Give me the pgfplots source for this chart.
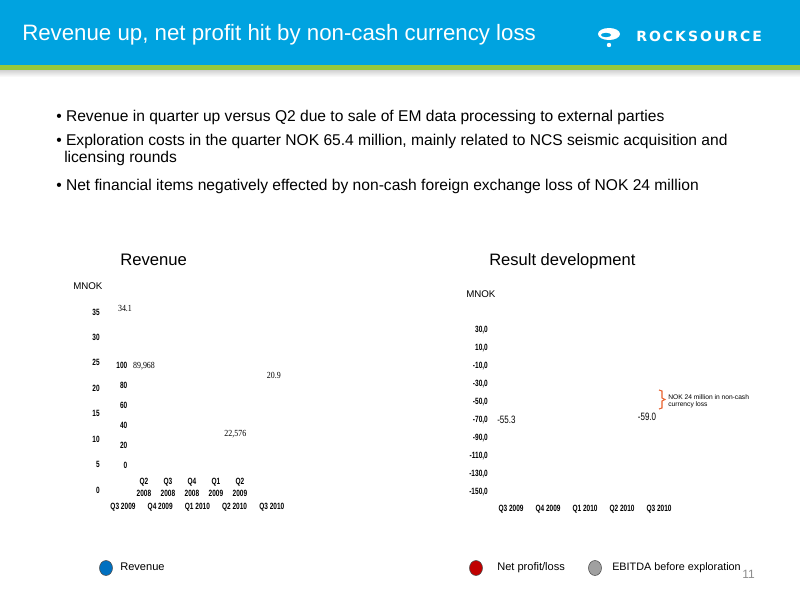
\documentclass[border=0pt]{standalone}
\usepackage{pgfplots}
\pgfplotsset{compat=1.18}
\usepackage{fontspec}
\setmainfont{Liberation Sans}
\newfontfamily\narrowb[FakeStretch=0.72]{Liberation Sans}
\newfontfamily\narrow[FakeStretch=0.75]{Liberation Sans}
\newfontfamily\serifn[FakeStretch=0.85]{Liberation Serif}
\newfontfamily\logofont{DejaVu Sans}
\definecolor{hdrblue}{RGB}{0,163,224}
\definecolor{hdrgreen}{RGB}{150,200,60}
\definecolor{legblue}{RGB}{0,112,192}
\definecolor{legred}{RGB}{192,0,0}
\definecolor{leggray}{RGB}{160,160,160}
\definecolor{annor}{RGB}{232,96,44}
\begin{document}
\begin{tikzpicture}
\begin{scope}[x=0.75pt,y=-0.75pt]
\path[use as bounding box] (0,0) rectangle (800,600);
\fill[white] (0,0) rectangle (800,600);
\fill[hdrblue] (0,0) rectangle (800,65);
\fill[hdrgreen] (0,65) rectangle (800,70);
\shade[top color=black!18,bottom color=white] (0,70) rectangle (800,77);
\node[anchor=west, text=white, font=\fontsize{16.7}{18}\selectfont, inner sep=0pt] at (22,35) {Revenue up, net profit hit by non-cash currency loss};
% logo
\fill[white] (609,34) ellipse [x radius=11, y radius=6];
\fill[hdrblue] (606,35) ellipse [x radius=5, y radius=2.2];
\fill[white] (609,45) circle [radius=2.2];
\node[anchor=west, text=white, font=\logofont\bfseries\fontsize{10.5}{12}\selectfont, inner sep=0pt] at (636,36)
  {R\kern1.5pt O\kern1.5pt C\kern1.5pt K\kern1.5pt S\kern1.5pt O\kern1.5pt U\kern1.5pt R\kern1.5pt C\kern1.5pt E};
% bullets
\begin{scope}[every node/.style={anchor=west, inner sep=0pt, font=\fontsize{11.7}{13}\selectfont}]
\node at (56,117) {\textbullet\ Revenue in quarter up versus Q2 due to sale of EM data processing to external parties};
\node at (56,141) {\textbullet\ Exploration costs in the quarter NOK 65.4 million, mainly related to NCS seismic acquisition and};
\node at (64,158) {licensing rounds};
\node at (56,186) {\textbullet\ Net financial items negatively effected by non-cash foreign exchange loss of NOK 24 million};
\end{scope}
% chart titles
\node[anchor=west, inner sep=0pt, font=\fontsize{12.5}{14}\selectfont] at (120,260) {Revenue};
\node[anchor=west, inner sep=0pt, font=\fontsize{12.4}{14}\selectfont] at (489,261) {Result development};
\node[anchor=west, inner sep=0pt, font=\fontsize{7.3}{9}\selectfont] at (73,286) {MNOK};
\node[anchor=west, inner sep=0pt, font=\fontsize{7.3}{9}\selectfont] at (466,294) {MNOK};
% annotation
\draw[annor, line width=0.8pt] (659,390) -- (662,391) -- (662,398) -- (665,399.5) -- (662,401) -- (662,408) -- (659,409);
\node[anchor=west, inner sep=0pt, font=\fontsize{5.0}{6}\selectfont] at (668,397) {NOK 24 million in non-cash};
\node[anchor=west, inner sep=0pt, font=\fontsize{5.0}{6}\selectfont] at (668,405) {currency loss};
% legend
\filldraw[fill=legblue, draw=black!70, line width=0.4pt] (106,568) ellipse [x radius=6.5, y radius=7.5];
\node[anchor=west, inner sep=0pt, font=\fontsize{8.3}{10}\selectfont] at (120,567) {Revenue};
\filldraw[fill=legred, draw=black!70, line width=0.4pt] (476,568) ellipse [x radius=6.5, y radius=7.5];
\node[anchor=west, inner sep=0pt, font=\fontsize{8.3}{10}\selectfont] at (497,568) {Net profit/loss};
\filldraw[fill=leggray, draw=black!70, line width=0.4pt] (595,568) ellipse [x radius=6.5, y radius=7.5];
\node[anchor=west, inner sep=0pt, font=\fontsize{8.1}{10}\selectfont] at (612,568) {EBITDA before exploration};
\node[anchor=west, inner sep=0pt, text=black!45, font=\fontsize{9}{10}\selectfont] at (742,574) {11};
\end{scope}

\pgfplotsset{slidestyle/.style={
  scale only axis, clip=false,
  axis line style={draw=none}, major tick length=0pt,
  /pgf/number format/assume math mode=true,
  tick label style={font=\narrowb\bfseries\fontsize{6.8}{7.5}\selectfont},
  xmin=-0.5, xmax=4.5, xtick={0,...,4},
}}

% Revenue (current)
\begin{axis}[slidestyle, at={(78.3pt,-367.5pt)}, anchor=south west,
  width=139.5pt, height=133.5pt, ymin=0, ymax=35, ytick={0,5,...,35},
  xticklabels={Q3 2009,Q4 2009,Q1 2010,Q2 2010,Q3 2010},
  xticklabel style={yshift=-6.5pt},
  nodes near coords style={font=\serifn\fontsize{7}{8}\selectfont}]
\addplot[draw=none, point meta=explicit symbolic, nodes near coords, nodes near coords style={xshift=1.5pt}] coordinates {(0,34.1) [34.1] (4,20.9) [20.9]};
\end{axis}

% Revenue (older overlapping chart)
\begin{axis}[slidestyle, at={(99pt,-348.75pt)}, anchor=south west,
  width=90pt, height=75pt, ymin=0, ymax=100, ytick={0,20,...,100},
  xticklabels={{Q2\\2008},{Q3\\2008},{Q4\\2008},{Q1\\2009},{Q2\\2009}},
  xticklabel style={yshift=-6pt, align=center, font=\narrowb\bfseries\fontsize{6.8}{9}\selectfont},
  nodes near coords style={font=\serifn\fontsize{7}{8}\selectfont}]
\addplot[draw=none, point meta=explicit symbolic, nodes near coords] coordinates {(0,89.968) [{89,968}]};
\addplot[draw=none, point meta=explicit symbolic, nodes near coords, nodes near coords style={xshift=-3.5pt}] coordinates {(4,22.576) [{22,576}]};
\end{axis}

% Result development
\begin{axis}[slidestyle, at={(369.4pt,-369pt)}, anchor=south west,
  width=138.75pt, height=121.5pt, ymin=-150, ymax=30, ytick={-150,-130,...,30},
  yticklabels={{-150,0},{-130,0},{-110,0},{-90,0},{-70,0},{-50,0},{-30,0},{-10,0},{10,0},{30,0}},
  xticklabels={Q3 2009,Q4 2009,Q1 2010,Q2 2010,Q3 2010},
  xticklabel style={yshift=-6.5pt},
  nodes near coords style={font=\narrow\fontsize{8}{9}\selectfont, anchor=north}]
\addplot[draw=none, point meta=explicit symbolic, nodes near coords, nodes near coords style={xshift=-3.5pt, yshift=-3.5pt}] coordinates {(0,-55.3) [-55.3]};
\addplot[draw=none, point meta=explicit symbolic, nodes near coords, nodes near coords style={xshift=-9pt, yshift=1pt}] coordinates {(4,-59.0) [-59.0]};
\end{axis}
\end{tikzpicture}
\end{document}
